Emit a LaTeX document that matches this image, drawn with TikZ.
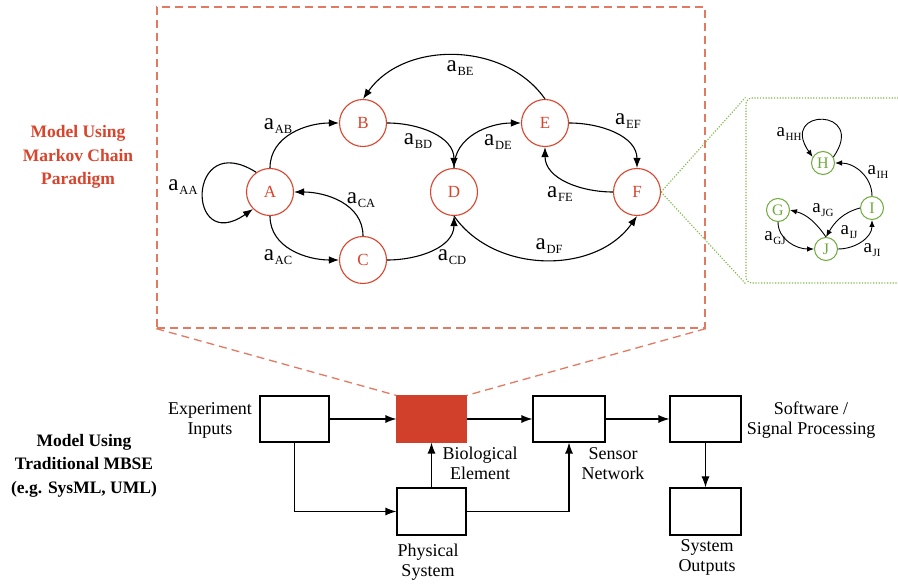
\documentclass[tikz,border=0pt]{standalone}
\usepackage{fontspec}
\setmainfont{Liberation Serif}
\usetikzlibrary{arrows.meta}
\definecolor{mred}{HTML}{D9442C}
\definecolor{mbio}{HTML}{D0402A}
\definecolor{mdash}{HTML}{E27A62}
\definecolor{mgreen}{HTML}{6FAA3C}
\definecolor{mgdot}{HTML}{80BA4A}
\newcommand\mlab[1]{{\fontsize{23}{23}\selectfont a}\kern0.8pt\raisebox{-4.5pt}{\fontsize{12.5}{12.5}\selectfont #1}}
\newcommand\glab[1]{{\fontsize{19}{19}\selectfont a}\kern0.6pt\raisebox{-4pt}{\fontsize{11}{11}\selectfont #1}}
\begin{document}
\begin{tikzpicture}[x=1pt,y=1pt,
  st/.style={circle,draw=mred,text=mred,line width=1.1pt,minimum size=47pt,inner sep=0pt,font=\fontsize{17}{17}\selectfont},
  gst/.style={circle,draw=mgreen,text=mgreen,line width=1pt,minimum size=23pt,inner sep=0pt,font=\fontsize{16}{16}\selectfont},
  edge/.style={line width=1.1pt,-{Latex[length=10pt,width=7.5pt]}},
  gedge/.style={line width=0.9pt,-{Latex[length=7pt,width=5.5pt]}},
  lbl/.style={inner sep=0pt},
  blk/.style={draw,line width=1.1pt,minimum width=69pt,minimum height=46pt,inner sep=0pt},
  barrow/.style={line width=1.1pt,-{Latex[length=11pt,width=8pt]}},
  txt/.style={align=center,font=\fontsize{18}{20}\selectfont},
  side/.style={align=center,font=\bfseries\fontsize{17.5}{23.5}\selectfont},
  reddash/.style={draw=mdash,line width=1.3pt,dash pattern=on 8pt off 5pt},
  greendot/.style={draw=mgdot,line width=1.1pt,dash pattern=on 1.2pt off 1.6pt},
]
\useasboundingbox (0,0) rectangle (898,584);
\clip (0,0) rectangle (898,584);
\fill[white] (0,0) rectangle (898,584);

% frames
\node[reddash,minimum width=548pt,minimum height=321pt,inner sep=0pt] (mbox) at (431,416.5) {};
\node[greendot,rounded corners=6pt,minimum width=164pt,minimum height=185pt,inner sep=0pt] (gbox) at (828,393.5) {};

% Markov chain nodes
\node[st] (A) at (270,392) {A};
\node[st] (B) at (363,461) {B};
\node[st] (C) at (363,324) {C};
\node[st] (D) at (454,392) {D};
\node[st] (E) at (545,461) {E};
\node[st] (F) at (637,392) {F};

\draw[edge] (A.125) .. controls (186,456) and (186,328) .. (A.-135);
\draw[edge] (A.north) to[out=90,in=180] (B.west);
\draw[edge] (B.east) to[out=0,in=90] (D.north);
\draw[edge] (D.north) to[out=90,in=180] (E.west);
\draw[edge] (E.east) to[out=0,in=90] (F.north);
\draw[edge] (F.west) to[out=180,in=-90] (E.south);
\draw[edge] (E.north) to[out=125,in=55] (B.north);
\draw[edge] (A.south) to[out=-90,in=180] (C.west);
\draw[edge] (C.north) to[out=90,in=0] (A.east);
\draw[edge] (C.east) to[out=0,in=-90] (D.south);
\draw[edge] (D.south) to[out=-55,in=-125] (F.south);

\node[lbl] (lAA) at (183,397) {\mlab{AA}};
\node[lbl] (lAB) at (278,458) {\mlab{AB}};
\node[lbl] (lBD) at (418,443) {\mlab{BD}};
\node[lbl] (lBE) at (460,516) {\mlab{BE}};
\node[lbl] (lDE) at (498,442) {\mlab{DE}};
\node[lbl] (lEF) at (628,463) {\mlab{EF}};
\node[lbl] (lFE) at (560,390) {\mlab{FE}};
\node[lbl] (lDF) at (549,338) {\mlab{DF}};
\node[lbl] (lCD) at (452,327) {\mlab{CD}};
\node[lbl] (lCA) at (361,384) {\mlab{CA}};
\node[lbl] (lAC) at (278,327) {\mlab{AC}};

% green sub-chain
\node[gst] (H) at (823,421) {H};
\node[gst] (I) at (872,376) {I};
\node[gst] (G) at (778,374) {G};
\node[gst] (J) at (826,335) {J};

\draw[gedge] (H.30) .. controls (868,476.5) and (778,476.5) .. (H.150);
\draw[gedge] (I.north) to[out=90,in=0] (H.east);
\draw[gedge] (I.west) to[out=195,in=60] (J.north);
\draw[gedge] (J.north) to[out=125,in=-15] (G.east);
\draw[gedge] (G.south) to[out=-90,in=180] (J.west);
\draw[gedge] (J.east) to[out=0,in=-90] (I.south);

\node[lbl] (lHH) at (789,450) {\glab{HH}};
\node[lbl] (lIH) at (878,412) {\glab{IH}};
\node[lbl] (lJG) at (823,374) {\glab{JG}};
\node[lbl] (lIJ) at (849,352) {\glab{IJ}};
\node[lbl] (lGJ) at (775,346) {\glab{GJ}};
\node[lbl] (lJI) at (872,334) {\glab{JI}};

\draw[greendot] (F.east) -- (gbox.north west);
\draw[greendot] (F.east) -- (gbox.south west);

% block diagram
\node[blk] (exp) at (294.5,165) {};
\node[blk,fill=mbio,draw=mbio] (bio) at (431.5,165) {};
\node[blk,minimum width=72pt] (sen) at (569,165) {};
\node[blk,minimum width=71pt] (sw) at (705.5,165) {};
\node[blk,minimum height=47pt] (phy) at (431.5,72.5) {};
\node[blk,minimum width=71pt,minimum height=47pt] (out) at (705.5,72.5) {};

\draw[reddash] (mbox.south west) -- (bio.north west);
\draw[reddash] (mbox.south east) -- (bio.north east);

\draw[barrow] (exp) -- (bio);
\draw[barrow] (bio) -- (sen);
\draw[barrow] (sen) -- (sw);
\draw[barrow] (sw) -- (out);
\draw[barrow] (phy) -- (bio);
\draw[barrow] (exp.south) |- (phy.west);
\draw[barrow] (phy.east) -| (sen.south);

\node[txt] (lexp) at (210,164) {Experiment\\Inputs};
\node[txt] (lbio) at (480,121) {Biological\\Element};
\node[txt] (lsen) at (613,120) {Sensor\\Network};
\node[txt] (lsw) at (811,164) {Software /\\Signal Processing};
\node[txt] (lphy) at (428,22) {Physical\\System};
\node[txt] (lout) at (707,26.5) {System\\Outputs};

\node[side,text=mred] (lmarkov) at (78,427) {Model Using\\Markov Chain\\Paradigm};
\node[side] (lmbse) at (84,118.5) {Model Using\\Traditional MBSE\\(e.g. SysML, UML)};
\end{tikzpicture}
\end{document}
